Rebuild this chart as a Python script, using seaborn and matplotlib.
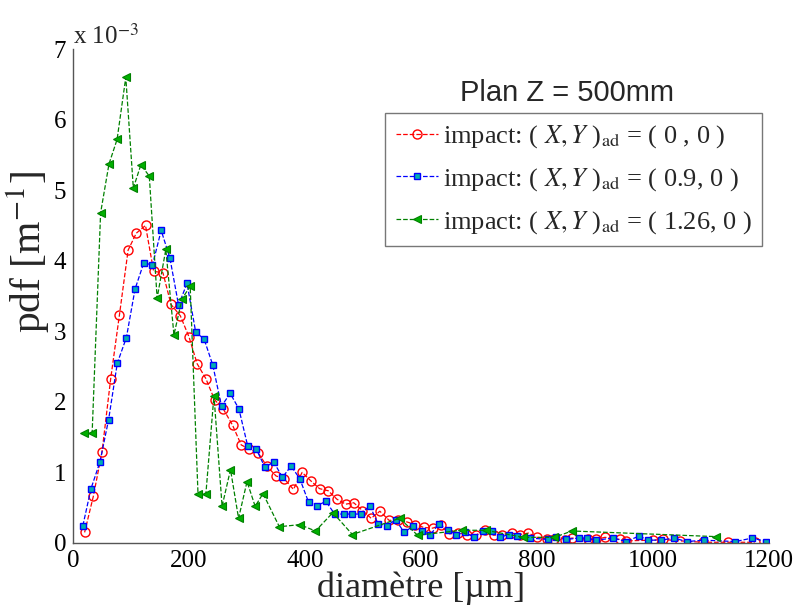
import matplotlib
matplotlib.use("Agg")
import matplotlib.pyplot as plt
import numpy as np
import pandas as pd
import seaborn as sns

# diameter bins [um] and pdf values [x 1e-3 m^-1]
d_00 = [20, 35, 50, 65, 80, 95, 109, 125, 139, 155, 169, 185, 200, 214, 229,
        244, 259, 275, 290, 304, 319, 334, 350, 364, 380, 395, 410, 425, 440,
        455, 470, 484, 499, 514, 529, 545, 560, 575, 590, 605, 620, 634, 649,
        664, 679, 694, 710, 725, 740, 756, 770, 785, 800, 817, 830, 848, 860,
        888, 902, 917, 943, 954, 1000, 1017, 1046, 1086, 1129, 1175]
pdf_00 = [0.15, 0.66, 1.29, 2.33, 3.23, 4.15, 4.39, 4.50, 3.85, 3.83, 3.38,
          3.22, 2.92, 2.54, 2.33, 2.03, 1.90, 1.67, 1.39, 1.33, 1.28, 1.09,
          0.95, 0.91, 0.76, 1.00, 0.88, 0.77, 0.74, 0.62, 0.55, 0.57, 0.46,
          0.35, 0.45, 0.32, 0.33, 0.30, 0.26, 0.22, 0.21, 0.25, 0.13, 0.14,
          0.12, 0.11, 0.18, 0.11, 0.12, 0.14, 0.12, 0.14, 0.08, 0.06, 0.06,
          0.04, 0.07, 0.05, 0.05, 0.08, 0.05, 0.03, 0.04, 0.05, 0.03, 0.01,
          0.01, 0.01]

d_09 = [17, 31, 46.5, 61.4, 76.4, 92, 107, 122, 137, 152, 167, 182, 196.5,
        211.5, 226, 241, 256, 271, 286, 301, 316, 331, 346, 361, 376, 391,
        406, 421, 436, 451, 466.7, 481.6, 496.5, 511.5, 526, 541, 556, 571,
        586, 601, 616, 631, 646, 661, 676, 691, 707, 721.5, 736, 751, 766,
        788, 818, 833, 850, 872, 886, 902, 931, 954, 976, 991, 1014, 1036,
        1058, 1088, 1142, 1171, 1195]
pdf_09 = [0.245, 0.77, 1.15, 1.75, 2.55, 2.91, 3.60, 3.97, 3.94, 4.43, 4.04,
          3.37, 3.68, 2.99, 2.89, 2.52, 1.94, 2.12, 1.90, 1.38, 1.33, 1.07,
          1.15, 0.93, 1.09, 0.91, 0.58, 0.53, 0.59, 0.41, 0.41, 0.41, 0.41,
          0.53, 0.27, 0.24, 0.33, 0.15, 0.24, 0.17, 0.12, 0.27, 0.19, 0.12,
          0.15, 0.08, 0.17, 0.17, 0.08, 0.12, 0.10, 0.07, 0.05, 0.08, 0.05,
          0.07, 0.07, 0.04, 0.07, 0.02, 0.10, 0.04, 0.04, 0.07, 0.02, 0.04,
          0.02, 0.07, 0.02]

d_126 = [19, 33, 47.6, 62, 76, 91, 104, 117, 131.5, 145, 160, 174, 188,
         202, 215.5, 229, 243, 257, 271.5, 285.4, 300, 314, 327.6, 355.7,
         390.8, 418, 448, 481.6, 563, 594, 670, 712, 776, 830, 860, 1109]
pdf_126 = [1.56, 1.56, 4.68, 5.37, 5.72, 6.60, 5.03, 5.36, 5.20, 3.47, 4.16,
           2.95, 3.46, 3.64, 0.69, 0.69, 2.09, 0.52, 1.04, 0.35, 0.87, 0.52,
           0.70, 0.23, 0.26, 0.17, 0.43, 0.12, 0.35, 0.11, 0.18, 0.18, 0.08,
           0.08, 0.17, 0.09]

labels = [
    r"impact: ( $\mathit{X,Y}$ )$_{\mathrm{ad}}$ = ( 0 , 0 )",
    r"impact: ( $\mathit{X,Y}$ )$_{\mathrm{ad}}$ = ( 0.9, 0 )",
    r"impact: ( $\mathit{X,Y}$ )$_{\mathrm{ad}}$ = ( 1.26, 0 )",
]

sns.set_style("white")
plt.rcParams["font.family"] = ["Liberation Serif", "DejaVu Serif"]
plt.rcParams["mathtext.fontset"] = "stix"

fig = plt.figure(figsize=(7.97, 6.06), dpi=100)
ax = fig.add_axes([0.0916, 0.104, 0.8734, 0.815])

series = [
    (d_00, pdf_00, dict(color="#ff0000", marker="o", markerfacecolor="none",
                        markeredgecolor="#ff0000", markersize=6.5, markeredgewidth=1.0)),
    (d_09, pdf_09, dict(color="#0000ff", marker="s", markerfacecolor="#00b0b0",
                        markeredgecolor="#0000ff", markersize=5, markeredgewidth=1.0)),
    (d_126, pdf_126, dict(color="#008000", marker="<", markerfacecolor="#00b000",
                          markeredgecolor="#008000", markersize=5.5, markeredgewidth=0.8)),
]
for (d, p, style), lab in zip(series, labels):
    df = pd.DataFrame({"d": d, "pdf": p})
    sns.lineplot(data=df, x="d", y="pdf", ax=ax, linestyle="--", linewidth=0.9,
                 dashes=False, label=lab, **style)

ax.set_xlim(0, 1200)
ax.set_ylim(0, 7)
ax.set_xticks(np.arange(0, 1201, 200))
ax.set_xticks(np.arange(0, 1201, 40), minor=True)
ax.set_yticks(np.arange(0, 8, 1))
ax.tick_params(axis="both", which="major", direction="in", length=7, width=0.8,
               labelsize=18, colors="#555555", labelcolor="black", pad=5)
ax.tick_params(axis="x", which="minor", direction="in", length=4, width=0.8,
               colors="#555555")
for side in ["top", "right"]:
    ax.spines[side].set_visible(False)
for side in ["left", "bottom"]:
    ax.spines[side].set_color("#555555")
    ax.spines[side].set_linewidth(1.0)

ax.set_xlabel("diamètre [µm]", fontsize=26)
ax.xaxis.set_label_coords(0.50, -0.058)
ax.set_ylabel(r"pdf [m$^{\mathrm{-1}}$]", fontsize=30)
ax.yaxis.set_label_coords(-0.030, 0.59)
ax.text(0.0, 1.0, r"x 10$^{\mathrm{-3}}$", transform=ax.transAxes,
        fontsize=18, ha="left", va="bottom")

leg = ax.legend(loc="upper left", bbox_to_anchor=(0.483, 0.8135),
                bbox_transform=fig.transFigure, frameon=True, fancybox=False,
                fontsize=19, handlelength=1.6, handletextpad=0.2,
                labelspacing=0.6, borderpad=0.4, borderaxespad=0)
leg.get_frame().set_edgecolor("#555555")
leg.get_frame().set_linewidth(1.0)
fig.text(0.712, 0.846, "Plan Z = 500mm", fontsize=21, ha="center", va="center",
         family="Liberation Sans")

fig.savefig("out.png", dpi=100)
